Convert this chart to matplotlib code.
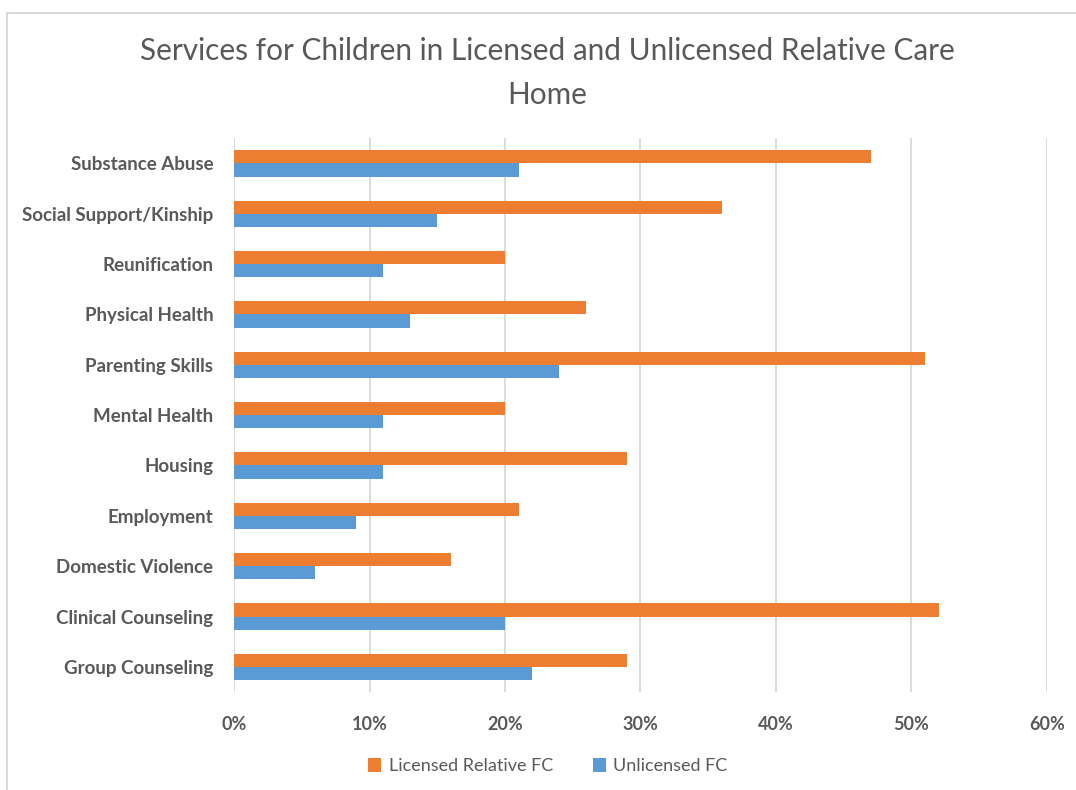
import matplotlib.pyplot as plt
import numpy as np
from matplotlib.ticker import PercentFormatter
from matplotlib.patches import Rectangle

# services, listed bottom to top as they appear on the chart
services = ['Group Counseling', 'Clinical Counseling', 'Domestic Violence',
            'Employment', 'Housing', 'Mental Health', 'Parenting Skills',
            'Physical Health', 'Reunification', 'Social Support/Kinship',
            'Substance Abuse']
licensed = [29, 52, 16, 21, 29, 20, 51, 26, 20, 36, 47]
unlicensed = [22, 20, 6, 9, 11, 11, 24, 13, 11, 15, 21]

plt.rcParams['font.family'] = ['Lato', 'DejaVu Sans']
txt = '#595959'

fig = plt.figure(figsize=(10.76, 7.9), dpi=100)
ax = fig.add_axes([0.2175, 0.124, 0.7555, 0.701])

y = np.arange(len(services))
h = 0.26
ax.barh(y + h / 2, licensed, height=h, color='#ED7D31', label='Licensed Relative FC', zorder=3)
ax.barh(y - h / 2, unlicensed, height=h, color='#5B9BD5', label='Unlicensed FC', zorder=3)

ax.set_xlim(0, 60)
ax.set_ylim(-0.5, len(services) - 0.5)
ax.set_xticks(range(0, 61, 10))
ax.xaxis.set_major_formatter(PercentFormatter(decimals=0))
ax.set_yticks(y)
ax.set_yticklabels(services)
ax.grid(axis='x', color='#D9D9D9', linewidth=1.3, zorder=0)
for s in ax.spines.values():
    s.set_visible(False)
ax.tick_params(length=0, colors=txt, labelsize=13.5)
ax.tick_params(axis='y', pad=15)
ax.tick_params(axis='x', pad=17, labelsize=13)
for lab in ax.get_yticklabels() + ax.get_xticklabels():
    lab.set_fontweight('bold')

fig.text(0.509, 0.908, 'Services for Children in Licensed and Unlicensed Relative Care\nHome',
         ha='center', va='center', fontsize=21.4, color=txt, linespacing=1.68)

ax.legend(loc='center', bbox_to_anchor=(0.509, 0.03), bbox_transform=fig.transFigure,
          ncol=2, frameon=False, fontsize=13, handlelength=0.75, handleheight=0.75,
          handletextpad=0.4, columnspacing=2.2, labelcolor=txt)

# light frame around the chart area
fig.patches.append(Rectangle((7 / 1076, -0.1), 1.2, 1.1 - 13 / 790, transform=fig.transFigure,
                             fill=False, edgecolor='#D9D9D9', linewidth=1.5))

fig.savefig('out.png', dpi=100)
